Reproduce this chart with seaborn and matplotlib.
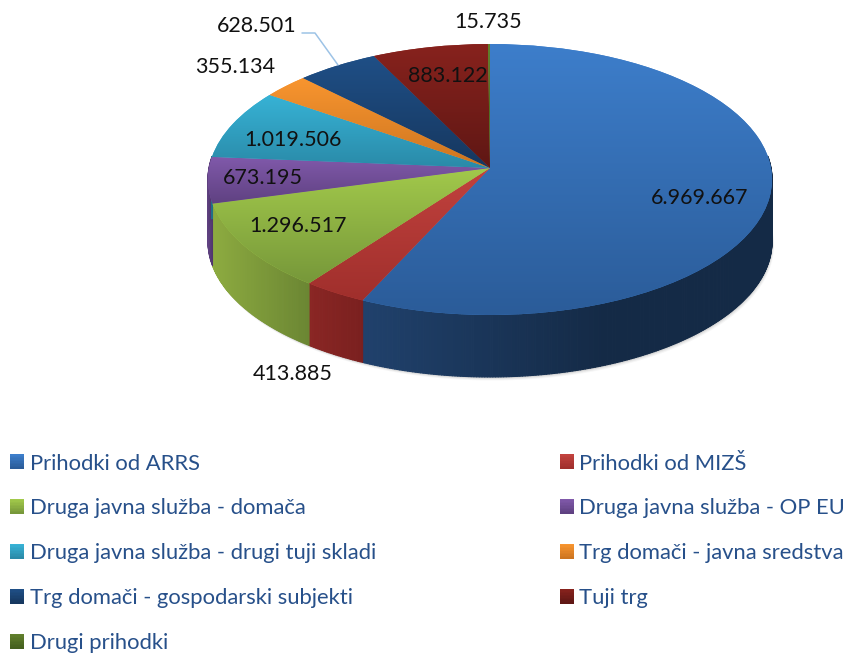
import numpy as np
import matplotlib
matplotlib.use("Agg")
import matplotlib.pyplot as plt
import matplotlib.transforms as mtransforms
from matplotlib.collections import PolyCollection
from matplotlib.colors import to_rgb
from matplotlib.legend_handler import HandlerBase
from matplotlib.patches import Rectangle
import seaborn as sns

categories = ["Prihodki od ARRS", "Prihodki od MIZŠ", "Druga javna služba - domača",
              "Druga javna služba - OP EU", "Druga javna služba - drugi tuji skladi",
              "Trg domači - javna sredstva", "Trg domači - gospodarski subjekti",
              "Tuji trg", "Drugi prihodki"]
values = [6969667, 413885, 1296517, 673195, 1019506, 355134, 628501, 883122, 15735]
top_light = ["#3d7ecb", "#c2423e", "#a2c94b", "#8059aa", "#37b3d6", "#f8952f", "#1f4f86", "#87221d", "#61802c"]
top_dark = ["#2b5c99", "#a02f2c", "#77983a", "#5f4181", "#2a8aa8", "#cd7520", "#16375f", "#5f1714", "#45601f"]
wall_a = ["#20416c", "#8a2624", "#8dab40", "#604282", "#23708a", "#a8601c", "#112c4c", "#4e1310", "#384f19"]
wall_b = ["#142a46", "#7a201f", "#6b8633", "#4e356c", "#1f6076", "#8e5018", "#0f2540", "#420f0d", "#2e4114"]
label_color = "#27508a"

sns.set_theme(style="white")
plt.rcParams["font.family"] = ["Lato", "DejaVu Sans"]
palette = sns.color_palette(top_light)


class Perspective(mtransforms.Transform):
    input_dims = output_dims = 2

    def transform_non_affine(self, pts):
        pts = np.asarray(pts, dtype=float)
        w = 1 + 0.0849 * pts[:, 1]
        return np.column_stack([490 + 281 * pts[:, 0] / w, 168 - 134.5 * pts[:, 1] / w])


persp = Perspective()
depth = 62
fig = plt.figure(figsize=(8.47, 6.54), dpi=100, facecolor="white")
ax = fig.add_axes([0, 0, 1, 1])
wedges, _ = ax.pie(values, colors=palette, startangle=90, counterclock=False,
                   wedgeprops={"linewidth": 0}, frame=False)
ax.set_aspect("auto")
ax.axis("off")

edges = 360 * np.cumsum([0] + values) / np.sum(values)


def rim(theta_cw):
    t = np.radians(theta_cw)
    return persp.transform(np.column_stack([np.sin(t), np.cos(t)]))


# soft shadow below the wall
outline = rim(np.linspace(0, 360, 361))
for off, alpha in ((3.5, .05), (2.5, .08), (1.5, .12)):
    ax.fill(outline[:, 0] + off * .6, outline[:, 1] + depth + off, color="#555555",
            alpha=alpha, lw=0, zorder=0.5)

# side wall: only the part of the rim that faces the viewer
for i in range(len(values)):
    lo_t, hi_t = max(edges[i], 85), min(edges[i + 1], 275)
    if hi_t <= lo_t:
        continue
    th = np.linspace(lo_t, hi_t, max(3, int(hi_t - lo_t) * 2))
    pts = rim(th)
    a, b = np.array(to_rgb(wall_a[i])), np.array(to_rgb(wall_b[i]))
    xs = pts[:, 0]
    lo, hi = xs.min(), xs.max()
    polys, cols = [], []
    for j in range(len(th) - 1):
        p, q = pts[j], pts[j + 1]
        polys.append([p, q, q + [0, depth], p + [0, depth]])
        f = ((p[0] + q[0]) / 2 - lo) / max(hi - lo, 1)
        if i == 0:
            f = min(1, ((p[0] + q[0]) / 2 - 363) / 240)
        cols.append(a + (b - a) * np.clip(f, 0, 1))
    ax.add_collection(PolyCollection(polys, facecolors=cols, edgecolors=cols, linewidths=.8, zorder=1))

# top surface with vertical gradient
for i, w in enumerate(wedges):
    w.set_transform(persp + ax.transData)
    w.set_zorder(2)
    v = persp.transform(w.get_path().vertices)
    a, b = np.array(to_rgb(top_light[i])), np.array(to_rgb(top_dark[i]))
    grad = np.linspace(0, 1, 128)[:, None, None] * (b - a)[None, None, :] + a[None, None, :]
    im = ax.imshow(grad, extent=(v[:, 0].min(), v[:, 0].max(), v[:, 1].max(), v[:, 1].min()),
                   aspect="auto", zorder=3, interpolation="bilinear")
    im.set_clip_path(w)

ax.set_xlim(0, 847)
ax.set_ylim(654, 0)

label_xy = [(700, 198), (293, 374), (298, 226), (263, 178), (293, 140), (235, 67), (257, 26), (448, 76), (488, 22)]
for v, (x, y) in zip(values, label_xy):
    ax.text(x, y, f"{v:,}".replace(",", "."), ha="center", va="center", fontsize=15.5,
            color="#111111", zorder=5)
ax.plot([302, 315, 338], [33, 33, 65], color="#9dc3e6", lw=1.1, zorder=4)


class GradientHandle(HandlerBase):
    def create_artists(self, legend, orig, xd, yd, width, height, fontsize, trans):
        i = wedges.index(orig)
        a, b = np.array(to_rgb(top_light[i])), np.array(to_rgb(top_dark[i]))
        n = 10
        out = []
        for k in range(n):
            c = a + (b - a) * k / (n - 1)
            out.append(Rectangle((-xd, -yd + height * (n - 1 - k) / n), width, height / n + .3,
                                 facecolor=c, edgecolor="none", transform=trans))
        return out


order = [0, 2, 4, 6, 8, 1, 3, 5, 7]
ax.legend([wedges[i] for i in order], [categories[i] for i in order], ncol=2, frameon=False,
          loc="upper left", bbox_to_anchor=(10, 453.5), bbox_transform=ax.transData,
          borderpad=0, borderaxespad=0, fontsize=15.8, labelcolor=label_color,
          handlelength=.64, handleheight=.64, handletextpad=.25, labelspacing=1.135,
          columnspacing=8.39, handler_map={type(wedges[0]): GradientHandle()})

fig.savefig("out.png", dpi=100, facecolor="white")
